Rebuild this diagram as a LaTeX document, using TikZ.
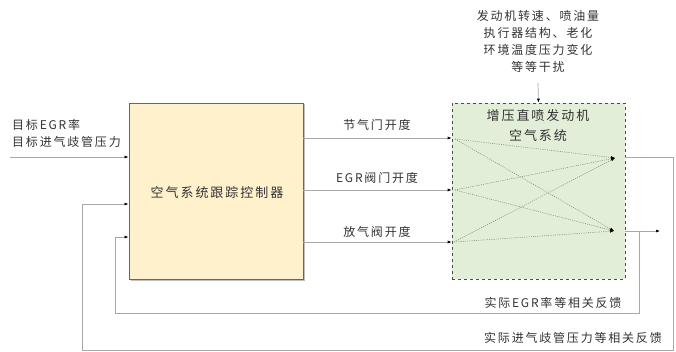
\documentclass[tikz,border=0pt]{standalone}
\usepackage{fontspec}
\newfontfamily\cjk{Noto Sans CJK SC}[LetterSpace=15]
\usetikzlibrary{arrows.meta,shadows}
\definecolor{ctrlfill}{HTML}{FFF1CC}
\definecolor{ctrldraw}{HTML}{6E6555}
\definecolor{engfill}{HTML}{E3EED9}
\definecolor{wire}{HTML}{A8A8A8}
\definecolor{innerc}{HTML}{7F8C78}
\definecolor{txt}{HTML}{333333}
\begin{document}
\begin{tikzpicture}[x=1pt,y=-1pt,
  every node/.style={font=\cjk\fontsize{12}{17}\selectfont, text=txt, inner sep=0pt},
  ctrlbox/.style={draw=ctrldraw, line width=0.8pt, fill=ctrlfill, minimum width=174pt, minimum height=176pt,
    drop shadow={shadow xshift=1.5pt, shadow yshift=-1.5pt, opacity=0.5}},
  engbox/.style={draw=black!70, dashed, line width=0.6pt, fill=engfill, minimum width=173pt, minimum height=176pt},
  wireline/.style={draw=wire, line width=0.7pt},
  arr/.style={wireline, -{Latex[length=4pt,width=3pt,fill=black,color=black]}},
  inner/.style={draw=innerc, line width=0.55pt, dash pattern=on 1pt off 1.2pt,
    -{Latex[length=4pt,width=3pt,fill=black,color=black]}},
  big/.style={font=\cjk\fontsize{13}{17}\selectfont}
]
\useasboundingbox (0,0) rectangle (676,352);

% main boxes
\node[ctrlbox] (ctrl) at (216,191) {};
\node[big] (ctrltxt) at (217,193) {空气系统跟踪控制器};
\node[engbox] (eng) at (538.5,191) {};
\node[big] (engt1) at (538,116) {增压直喷发动机};
\node[big] (engt2) at (538,136) {空气系统};

% disturbances
\node[align=center] (dist) at (538,41) {发动机转速、喷油量\\执行器结构、老化\\环境温度压力变化\\等等干扰};
\draw[arr] (538,83) -- (eng.north);

% reference input
\coordinate (in0) at (10,157);
\node[align=left, anchor=west] (intxt) at (12,133.5) {目标EGR率\\目标进气歧管压力};
\draw[arr] (in0) -- (in0 -| ctrl.west);

% actuator commands
\coordinate (c1) at (303,138);
\coordinate (c2) at (303,190);
\coordinate (c3) at (303,242);
\draw[arr] (c1) -- (c1 -| eng.west);
\draw[arr] (c2) -- (c2 -| eng.west);
\draw[arr] (c3) -- (c3 -| eng.west);
\node (l1) at (377,125) {节气门开度};
\node (l2) at (377,178) {EGR阀门开度};
\node (l3) at (377,232) {放气阀开度};

% internal couplings
\coordinate (p1) at (455,139);
\coordinate (p2) at (455,190);
\coordinate (p3) at (454,242);
\coordinate (q1) at (615,158);
\coordinate (q2) at (614,231);
\foreach \p in {p1,p2,p3}{
  \draw[inner] (\p) -- (q1);
  \draw[inner] (\p) -- (q2);
}

% outputs
\coordinate (o1) at (625,157);
\coordinate (o2) at (625,231);
\coordinate (oend) at (660,231);
\coordinate (br) at (639,231);
\draw[arr] (o2) -- (oend);

% outer feedback (intake pressure)
\coordinate (f1) at (673,350);
\coordinate (f2) at (82,350);
\coordinate (fa) at (82,204);
\draw[arr] (o1) -| (f1) -- (f2) -- (fa) -- (fa -| ctrl.west);

% inner feedback (EGR rate)
\coordinate (g1) at (639,313);
\coordinate (g2) at (115,313);
\coordinate (ga) at (115,237);
\draw[arr] (br) -- (g1) -- (g2) -- (ga) -- (ga -| ctrl.west);

\node (fb1) at (553,303) {实际EGR率等相关反馈};
\node (fb2) at (573,338) {实际进气歧管压力等相关反馈};
\end{tikzpicture}
\end{document}
